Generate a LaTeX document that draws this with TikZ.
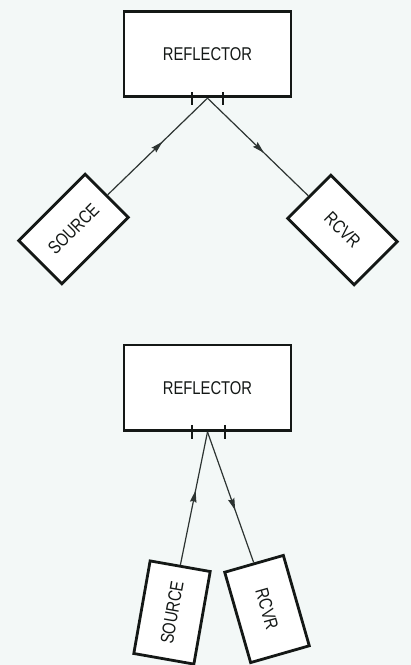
\documentclass[tikz,border=0pt]{standalone}
\usepackage{fontspec}
\newfontfamily\condfont[FakeStretch=0.8]{Liberation Sans}
\usetikzlibrary{arrows.meta,decorations.markings}
\definecolor{bgcol}{RGB}{243,248,247}
\definecolor{inkcol}{RGB}{20,24,22}
\definecolor{wirecol}{RGB}{45,52,50}
\tikzset{
  box/.style={draw=inkcol, line width=2.8pt, fill=white, inner sep=0pt,
    font=\condfont\fontsize{18.5}{18.5}\selectfont, text=inkcol},
  refbox/.style={box, minimum width=167pt, minimum height=85.5pt},
  devbox/.style={box, minimum width=94pt, minimum height=61pt},
  wire/.style={draw=wirecol, line width=1.2pt},
  midarrow/.style={postaction={decorate}, decoration={markings,
    mark=at position #1 with {\arrow{Stealth[length=12pt,width=6.5pt,inset=1.5pt]}}}},
  tick/.style={draw=inkcol, line width=1.8pt}
}
\begin{document}
\begin{tikzpicture}[x=1pt,y=-1pt]
\fill[bgcol] (0,0) rectangle (411,665);
\useasboundingbox (0,0) rectangle (411,665);

% top arrangement
\node[refbox] (ref1) at (207.5,54) {REFLECTOR};
\node[devbox, rotate=45] (src1) at (73.5,229) {SOURCE};
\node[devbox, rotate=-45] (rcv1) at (342.5,230) {RCVR};
\draw[wire, midarrow=0.55] (src1.east) -- (ref1.south);
\draw[wire, midarrow=0.56] (ref1.south) -- (rcv1.west);
\draw[tick] ([shift={(-15.5,-6)}]ref1.south) -- ++(0,13);
\draw[tick] ([shift={(15.5,-6)}]ref1.south) -- ++(0,13);

% bottom arrangement
\node[refbox] (ref2) at (207.5,387.75) {REFLECTOR};
\node[devbox, rotate=80] (src2) at (172,612.5) {SOURCE};
\node[devbox, rotate=-74] (rcv2) at (267,609) {RCVR};
\draw[wire, midarrow=0.56] (src2.east) -- (ref2.south);
\draw[wire, midarrow=0.6] (ref2.south) -- (rcv2.west);
\draw[tick] ([shift={(-15.5,-7)}]ref2.south) -- ++(0,14);
\draw[tick] ([shift={(17.5,-7)}]ref2.south) -- ++(0,14);
\end{tikzpicture}
\end{document}
